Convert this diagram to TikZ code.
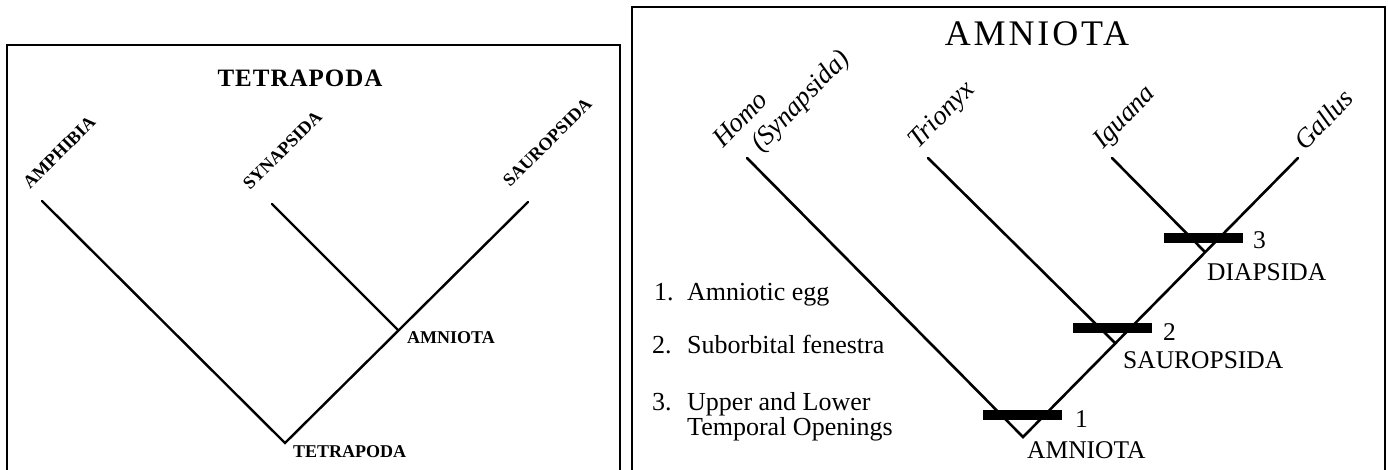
\documentclass[tikz,border=0pt]{standalone}
\usepackage{fontspec}
\setmainfont{Liberation Serif}
\newfontfamily\spacedfont[LetterSpace=8]{Liberation Serif}
\newfontfamily\spacedbold[LetterSpace=4]{Liberation Serif}
\begin{document}
\begin{tikzpicture}[x=1pt,y=-1pt,
  frame/.style={line width=1.8pt},
  ltree/.style={line width=2.4pt, line cap=round},
  rtree/.style={line width=2.6pt, line cap=round},
  lbl/.style={font=\fontsize{18}{20}\selectfont\bfseries, inner sep=0pt},
  llbl/.style={lbl, rotate=45, anchor=base west},
  rlbl/.style={font=\fontsize{25.5}{28}\selectfont, inner sep=0pt, anchor=base west},
  leaflbl/.style={font=\fontsize{27}{30}\selectfont\itshape, inner sep=0pt, rotate=46, anchor=base west},
  legend/.style={font=\fontsize{26}{30}\selectfont, inner sep=0pt, anchor=base west},
  bar/.style={fill=black, inner sep=0pt, minimum width=79pt, minimum height=10pt}
]
\useasboundingbox (0,0) rectangle (1388,469);
\fill[white] (0,0) rectangle (1388,469);

% ---------- left panel ----------
\draw[frame] (7,472) -- (7,45) -- (620,45) -- (620,472);
\node[font=\fontsize{25}{28}\selectfont\spacedbold\bfseries, inner sep=0pt, anchor=base] (ltitle) at (300,86) {TETRAPODA};

\coordinate (tet) at (285,443);
\coordinate (amn) at (398,330);
\coordinate (amph) at (42,201);
\coordinate (syn) at (272,204);
\coordinate (saur) at (528,202);
\draw[ltree] (amph) -- (tet) -- (saur);
\draw[ltree] (syn) -- (amn);

\node[llbl] (amphL) at (30,190) {AMPHIBIA};
\node[llbl] (synL) at (250,191) {SYNAPSIDA};
\node[llbl] (saurL) at (510,188) {SAUROPSIDA};
\node[lbl, anchor=base west] (amnL) at (407,343) {AMNIOTA};
\node[lbl, anchor=base west] (tetL) at (293,457) {TETRAPODA};

% ---------- right panel ----------
\draw[frame] (632,472) -- (632,7) -- (1385,7) -- (1385,472);
\node[font=\fontsize{36}{40}\selectfont\spacedfont, inner sep=0pt, anchor=base] (rtitle) at (1037,45) {AMNIOTA};

\coordinate (r1) at (1023,437);
\coordinate (r2) at (1115,343);
\coordinate (r3) at (1205,252);
\coordinate (homo) at (747,158);
\coordinate (trio) at (928,158);
\coordinate (igua) at (1112,158);
\coordinate (gall) at (1298,158);
\draw[rtree] (homo) -- (r1) -- (gall);
\draw[rtree] (trio) -- (r2);
\draw[rtree] (igua) -- (r3);

\node[leaflbl] (homoL) at (723,149) {Homo};
\node[leaflbl] (synpL) at (761,153) {(Synapsida)};
\node[leaflbl] (trioL) at (918,150) {Trionyx};
\node[leaflbl] (iguaL) at (1103,150) {Iguana};
\node[leaflbl] (gallL) at (1305,152) {Gallus};

\node[bar] (b1) at (1022.5,414.5) {};
\node[bar] (b2) at (1112.5,328) {};
\node[bar] (b3) at (1203.5,238) {};
\node[rlbl] (n1) at (1075,427) {1};
\node[rlbl] (n2) at (1163,340) {2};
\node[rlbl] (n3) at (1253,248) {3};

\node[rlbl] (amnR) at (1027,458) {AMNIOTA};
\node[rlbl] (saurR) at (1123,368) {SAUROPSIDA};
\node[rlbl] (diapR) at (1207,280) {DIAPSIDA};

\node[legend] (k1) at (654,300) {1.};
\node[legend] (t1) at (687,300) {Amniotic egg};
\node[legend] (k2) at (652,353) {2.};
\node[legend] (t2) at (687,353) {Suborbital fenestra};
\node[legend] (k3) at (652,410) {3.};
\node[legend] (t3) at (687,410) {Upper and Lower};
\node[legend] (t4) at (687,435) {Temporal Openings};
\end{tikzpicture}
\end{document}
